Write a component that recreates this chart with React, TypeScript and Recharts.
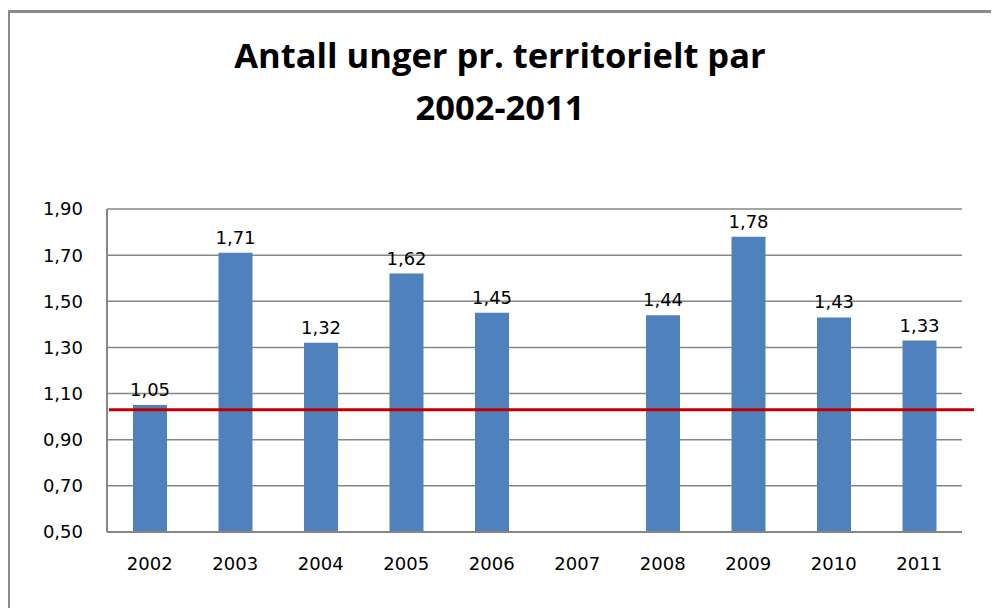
import React from "react";
import { BarChart, Bar, XAxis, YAxis, CartesianGrid, ReferenceLine, LabelList } from "recharts";

const years = ["2002", "2003", "2004", "2005", "2006", "2007", "2008", "2009", "2010", "2011"];
const chicks: (number | null)[] = [1.05, 1.71, 1.32, 1.62, 1.45, null, 1.44, 1.78, 1.43, 1.33];
const yTicks = [0.5, 0.7, 0.9, 1.1, 1.3, 1.5, 1.7, 1.9];
const referenceValue = 1.03;
const titleLines = ["Antall unger pr. territorielt par", "2002-2011"];

const data = years.map((y, i) => ({ year: y, value: chicks[i] }));

const fmt = (v: any) => (v === null || v === undefined ? "" : Number(v).toFixed(2).replace(".", ","));

const tickFont = { fontFamily: "DejaVu Sans", fontSize: 18, fill: "#000" };

export default function App() {
  return (
    <div style={{ position: "relative", width: 999, height: 616, margin: -8, background: "#fff", overflow: "hidden" }}>
      <div
        style={{
          position: "absolute",
          left: 7,
          top: 10,
          width: 992,
          height: 606,
          borderLeft: "3px solid #8a8a8a",
          borderTop: "3px solid #8a8a8a",
          boxSizing: "border-box",
        }}
      />
      <svg width={999} height={140} style={{ position: "absolute", left: 0, top: 0 }}>
        <text x={500} y={68} textAnchor="middle" style={{ fontFamily: "Open Sans", fontWeight: 700, fontSize: 34.5, fill: "#000" }}>
          {titleLines[0]}
        </text>
        <text x={500} y={120} textAnchor="middle" style={{ fontFamily: "Open Sans", fontWeight: 700, fontSize: 34.5, fill: "#000" }}>
          {titleLines[1]}
        </text>
      </svg>
      <div style={{ position: "absolute", left: 0, top: 0 }}>
        <BarChart width={999} height={616} data={data} margin={{ top: 209, right: 37, left: 0, bottom: 0 }}>
          <CartesianGrid vertical={false} stroke="#868686" strokeWidth={1.5} />
          <XAxis
            dataKey="year"
            height={84}
            tickLine={false}
            axisLine={{ stroke: "#868686", strokeWidth: 2 }}
            tickSize={6}
            tickMargin={19}
            tick={tickFont}
            interval={0}
          />
          <YAxis
            width={107}
            domain={[0.5, 1.9]}
            ticks={yTicks}
            allowDataOverflow
            tickLine={false}
            axisLine={{ stroke: "#868686", strokeWidth: 2 }}
            tickSize={6}
            tickMargin={18}
            tickFormatter={fmt}
            tick={tickFont}
          />
          <Bar dataKey="value" fill="#4F81BD" barSize={34} isAnimationActive={false}>
            <LabelList dataKey="value" position="top" offset={9} formatter={fmt} style={tickFont} />
          </Bar>
          <ReferenceLine
            y={referenceValue}
            ifOverflow="visible"
            shape={(p: any) => (
              <line x1={p.x1 + 2} y1={p.y1} x2={p.x2 + 12} y2={p.y2} stroke="#C00000" strokeWidth={3} />
            )}
          />
        </BarChart>
      </div>
    </div>
  );
}
